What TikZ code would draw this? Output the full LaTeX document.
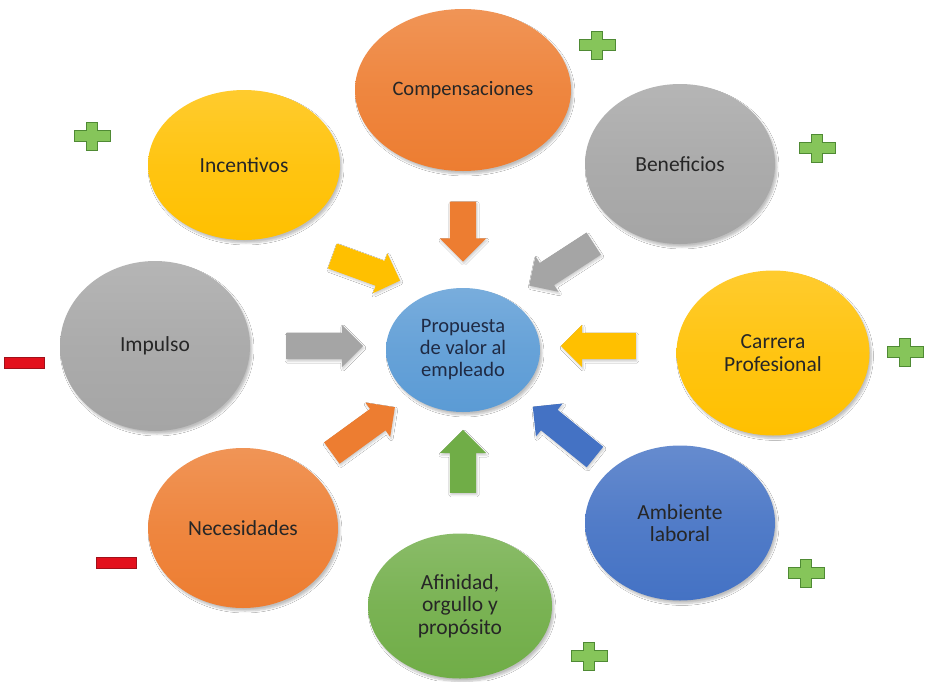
\documentclass[tikz,border=0pt]{standalone}
\usepackage{fontspec}
\setmainfont{Carlito}
\usetikzlibrary{shapes.geometric,shapes.arrows,shadows.blur}
\definecolor{corange}{HTML}{ED7D31}
\definecolor{cyellow}{HTML}{FFC000}
\definecolor{cgray}{HTML}{A5A5A5}
\definecolor{cblue}{HTML}{4472C4}
\definecolor{cgreen}{HTML}{70AD47}
\definecolor{clight}{HTML}{5B9BD5}
\definecolor{cplus}{HTML}{86C55A}
\definecolor{cplusd}{HTML}{4F8A34}
\definecolor{cminus}{HTML}{E3101C}
\definecolor{cminusd}{HTML}{A0101A}
\definecolor{ctext}{HTML}{262626}
\definecolor{cnavy}{HTML}{1F2A44}
\tikzset{
  bubble/.style={ellipse, draw=none, inner sep=0pt, align=center,
    font=\fontsize{21.5}{22.5}\selectfont, text=ctext,
    top color=#1!82!white, bottom color=#1, middle color=#1!93!white,
    blur shadow={shadow blur steps=6, shadow xshift=2pt, shadow yshift=-3pt, shadow opacity=25}},
  blockarrow/.style={single arrow, draw=none, fill=#1, inner xsep=0pt, inner ysep=13pt,
    single arrow head extend=8pt, minimum width=0pt,
    blur shadow={shadow blur steps=4, shadow xshift=1pt, shadow yshift=-2pt, shadow opacity=20}},
  plussign/.pic={\filldraw[fill=cplus, draw=cplusd, line width=0.9pt]
    (-18,-5.5)--(-5.5,-5.5)--(-5.5,-14)--(5.5,-14)--(5.5,-5.5)--(18,-5.5)--(18,5.5)--(5.5,5.5)--(5.5,14)--(-5.5,14)--(-5.5,5.5)--(-18,5.5)--cycle;},
  minussign/.pic={\filldraw[fill=cminus, draw=cminusd, line width=0.9pt]
    (-20,-5.5) rectangle (20,5.5);}
}
\begin{document}
\begin{tikzpicture}[x=1pt,y=-1pt]
\useasboundingbox[fill=white] (0,0) rectangle (927,681);
% bubbles
\node[bubble=corange, minimum width=216pt, minimum height=162pt, font=\fontsize{20.5}{22}\selectfont] (comp) at (463,90) {Compensaciones};
\node[bubble=cyellow, minimum width=192pt, minimum height=150pt] (inc) at (244,165) {Incentivos};
\node[bubble=cgray, minimum width=190pt, minimum height=160pt] (ben) at (680,164) {Beneficios};
\node[bubble=cgray, minimum width=190pt, minimum height=170pt] (imp) at (155,346) {Impulso};
\node[bubble=cyellow, minimum width=193pt, minimum height=165pt] (car) at (773,353) {Carrera\\Profesional};
\node[bubble=corange, minimum width=190pt, minimum height=160pt] (nec) at (243,528) {Necesidades};
\node[bubble=cblue, minimum width=190pt, minimum height=155pt] (amb) at (680,523) {Ambiente\\laboral};
\node[bubble=cgreen, minimum width=184pt, minimum height=145pt] (afi) at (460,606) {Afinidad,\\orgullo y\\propósito};
\node[bubble=clight, minimum width=154pt, minimum height=124pt, text=cnavy, font=\fontsize{20.5}{22}\selectfont] (evp) at (463,350) {Propuesta\\de valor al\\empleado};
% block arrows
\node[blockarrow=corange, minimum height=60pt, single arrow head extend=10pt, rotate=-90] (a1) at (463,225) {};
\node[blockarrow=cyellow, minimum height=72pt, rotate=-20] (a2) at (360,266) {};
\node[blockarrow=cgray, minimum height=77pt, rotate=-147] (a3) at (567,261) {};
\node[blockarrow=cgray, minimum height=77pt, rotate=0] (a4) at (318,346) {};
\node[blockarrow=cyellow, minimum height=75pt, rotate=180] (a5) at (605,346) {};
\node[blockarrow=corange, minimum height=78pt, rotate=36] (a6) at (358,434) {};
\node[blockarrow=cgreen, minimum height=63pt, single arrow head extend=10pt, rotate=90] (a7) at (463,468) {};
\node[blockarrow=cblue, minimum height=80pt, rotate=141] (a8) at (569,436) {};
% signs
\pic (p1) at (597,45) {plussign};
\pic (p2) at (92,136) {plussign};
\pic (p3) at (817,148) {plussign};
\pic (p4) at (905,352) {plussign};
\pic (p5) at (806,573) {plussign};
\pic (p6) at (589,656) {plussign};
\pic (m1) at (24,363) {minussign};
\pic (m2) at (116,563) {minussign};
\end{tikzpicture}
\end{document}
